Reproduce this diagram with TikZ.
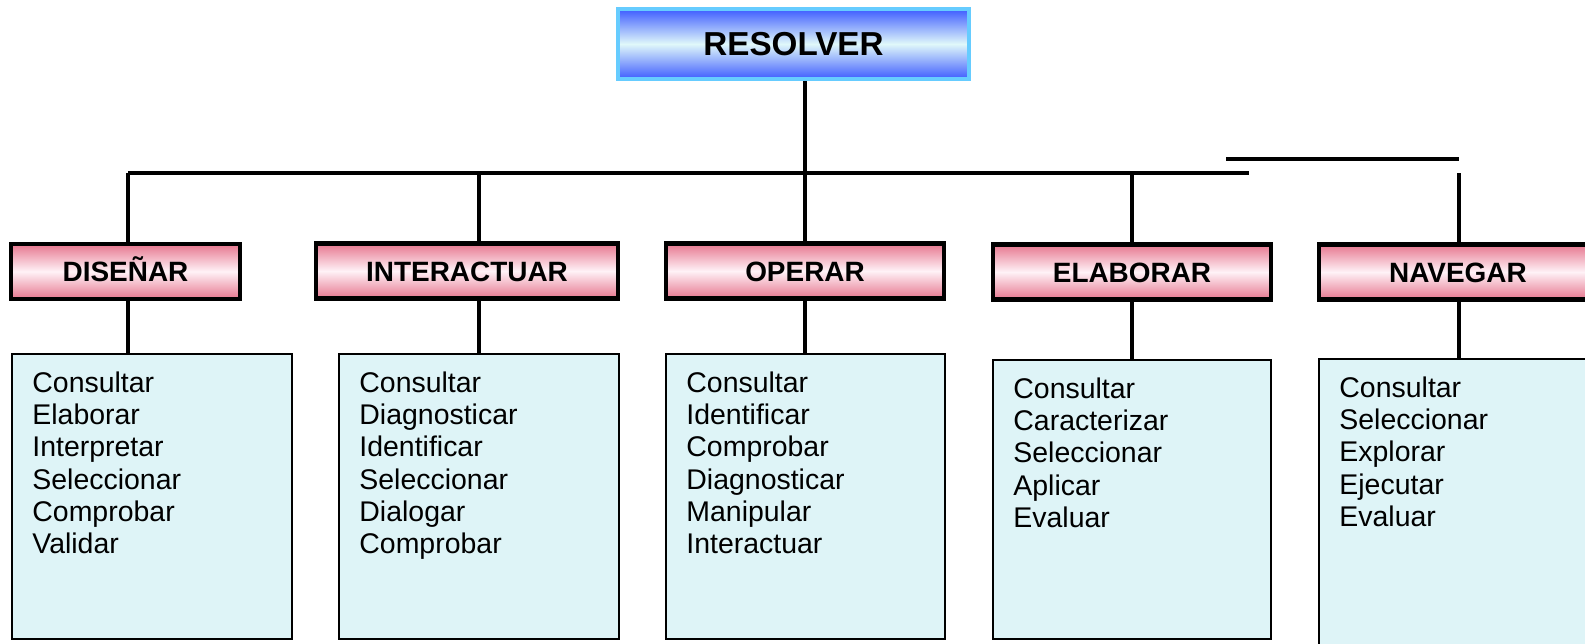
\documentclass[tikz,border=0pt]{standalone}
\usepackage{fontspec}
\setmainfont{Liberation Sans}
\usetikzlibrary{ positioning, % For easy node-relative placements
               }
\definecolor{pinkedge}{RGB}{230,118,142}
\definecolor{pinkmid}{RGB}{255,242,247}
\definecolor{blueedge}{RGB}{62,92,255}
\definecolor{bluemid}{RGB}{224,248,250}
\definecolor{blueline}{RGB}{102,204,255}
\definecolor{listfill}{RGB}{222,244,247}
\tikzstyle{link} = [line width=2pt, black]
\tikzstyle{root} = [rectangle, draw=blueline, line width=2.3pt, top color=blueedge, bottom color=blueedge, middle color=bluemid, minimum width=7.02cm, minimum height=1.40cm, text height=13.5pt, text depth=0pt, font=\fontsize{18.9}{22}\selectfont\bfseries]
\tikzstyle{verb} = [rectangle, draw=black, line width=2.3pt, top color=pinkedge, bottom color=pinkedge, middle color=pinkmid, minimum height=1.1cm, text height=11.4pt, text depth=0pt, font=\fontsize{15.9}{19}\selectfont\bfseries]
\tikzstyle{listbox} = [rectangle, draw=black, line width=1.1pt, fill=listfill]
\tikzstyle{items} = [align=left, inner sep=0pt, font=\fontsize{16.2}{18.4}\selectfont]

\begin{document}
\begin{tikzpicture}[x=0.02cm, y=-0.02cm]
  \useasboundingbox (0,0) rectangle (1585,643);
  \clip (0,0) rectangle (1585,643);

  \node (resolver) [root] at (793.5, 44) {RESOLVER};

  \node (disenar) [verb, minimum width=4.58cm] at (125.5, 271.5) {DISEÑAR};
  \node (interactuar) [verb, minimum width=6.04cm] at (467, 271) {INTERACTUAR};
  \node (operar) [verb, minimum width=5.56cm] at (805, 271) {OPERAR};
  \node (elaborar) [verb, minimum width=5.56cm] at (1132, 272) {ELABORAR};
  \node (navegar) [verb, minimum width=5.56cm] at (1458, 272) {NAVEGAR};

  \node (dislist) [listbox, minimum width=5.6cm, minimum height=5.7cm] at (152, 496.5) {};
  \node (intlist) [listbox, minimum width=5.6cm, minimum height=5.7cm] at (479, 496.5) {};
  \node (opelist) [listbox, minimum width=5.58cm, minimum height=5.7cm] at (805.5, 496.5) {};
  \node (elalist) [listbox, minimum width=5.56cm, minimum height=5.58cm] at (1132, 499.5) {};
  \node (navlist) [listbox, minimum width=5.6cm, minimum height=6cm] at (1459, 509) {};

  \node (disitems) [items, below right=0.36cm and 0.42cm of dislist.north west]
    {Consultar\\Elaborar\\Interpretar\\Seleccionar\\Comprobar\\Validar};
  \node (intitems) [items, below right=0.36cm and 0.42cm of intlist.north west]
    {Consultar\\Diagnosticar\\Identificar\\Seleccionar\\Dialogar\\Comprobar};
  \node (opeitems) [items, below right=0.36cm and 0.42cm of opelist.north west]
    {Consultar\\Identificar\\Comprobar\\Diagnosticar\\Manipular\\Interactuar};
  \node (elaitems) [items, below right=0.36cm and 0.42cm of elalist.north west]
    {Consultar\\Caracterizar\\Seleccionar\\Aplicar\\Evaluar};
  \node (navitems) [items, below right=0.36cm and 0.42cm of navlist.north west]
    {Consultar\\Seleccionar\\Explorar\\Ejecutar\\Evaluar};

  % bus
  \coordinate (busL) at (128, 173);
  \coordinate (busI) at (479, 173);
  \coordinate (busO) at (805, 173);
  \coordinate (busE) at (1132, 173);
  \coordinate (busR) at (1249, 173);
  \coordinate (navL) at (1226, 159);
  \coordinate (navR) at (1459, 159);
  \coordinate (navT) at (1459, 173);

  \draw [link] (busL) -- (busR);
  \draw [link] (navL) -- (navR);
  \draw [link] (busO) -- (busO |- resolver.south);

  \draw [link] (busL) -- (busL |- disenar.north);
  \draw [link] (busI) -- (busI |- interactuar.north);
  \draw [link] (busO) -- (busO |- operar.north);
  \draw [link] (busE) -- (busE |- elaborar.north);
  \draw [link] (navT) -- (navT |- navegar.north);

  \draw [link] (busL |- disenar.south) -- (busL |- dislist.north);
  \draw [link] (busI |- interactuar.south) -- (busI |- intlist.north);
  \draw [link] (busO |- operar.south) -- (busO |- opelist.north);
  \draw [link] (busE |- elaborar.south) -- (busE |- elalist.north);
  \draw [link] (navT |- navegar.south) -- (navT |- navlist.north);
\end{tikzpicture}
\end{document}
